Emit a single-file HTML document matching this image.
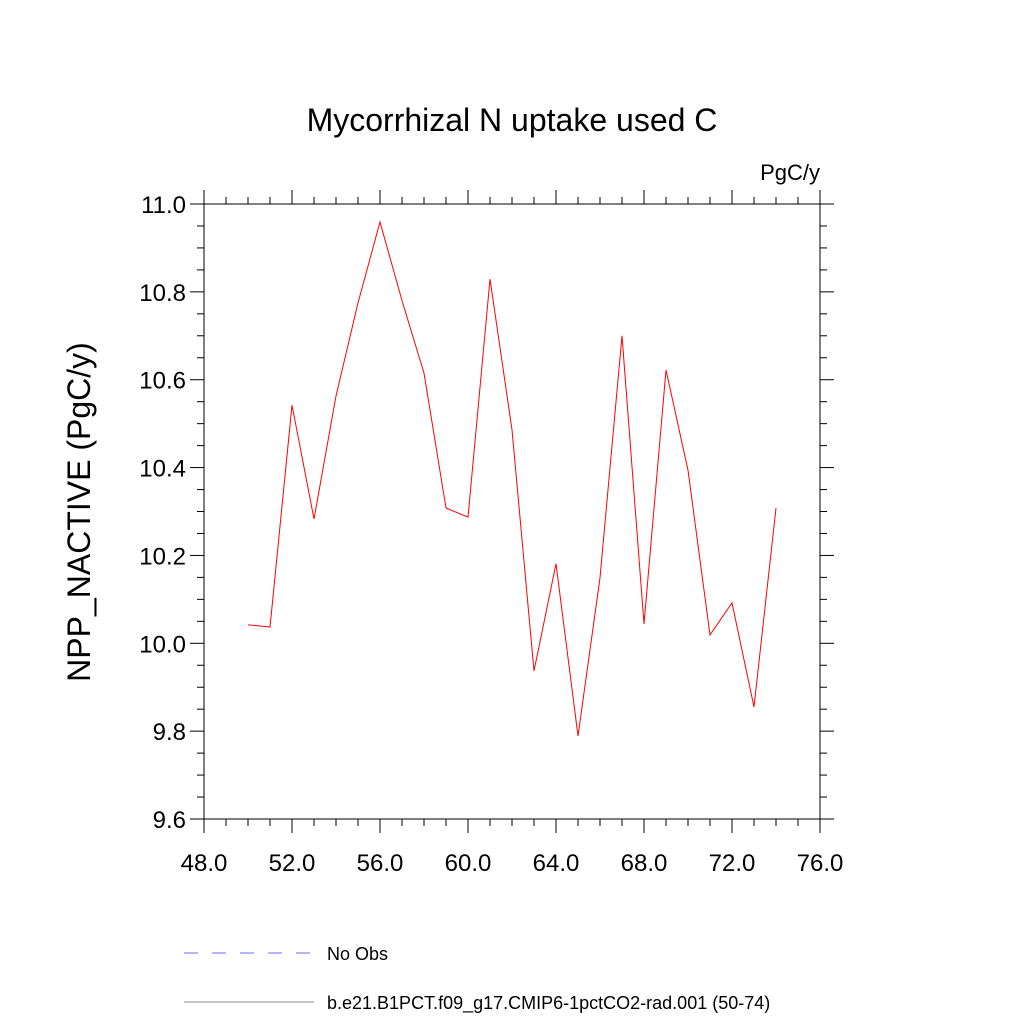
<!DOCTYPE html>
<html><head><meta charset="utf-8"><style>
body{margin:0;background:#fff}
svg text{font-family:"Liberation Sans",sans-serif}
</style></head><body>
<svg width="1024" height="1024" xmlns="http://www.w3.org/2000/svg">
<rect width="1024" height="1024" fill="#fff"/>
<text x="512" y="131" font-size="32" text-anchor="middle">Mycorrhizal N uptake used C</text>
<text x="820" y="180" font-size="22" text-anchor="end">PgC/y</text>
<text transform="translate(90,512) rotate(-90)" font-size="32" text-anchor="middle">NPP_NACTIVE  (PgC/y)</text>
<g id="axes"></g>
<path id="series" fill="none" stroke="#ff0000" stroke-width="1"/>
<line x1="184" y1="953" x2="314" y2="953" stroke="#6a6aff" stroke-width="1" stroke-dasharray="14,14"/>
<text x="327" y="960" font-size="18">No Obs</text>
<line x1="184" y1="1002" x2="314" y2="1002" stroke="#888" stroke-width="1"/>
<text x="327" y="1009" font-size="18">b.e21.B1PCT.f09_g17.CMIP6-1pctCO2-rad.001 (50-74)</text>
</svg>
<script>
const years=[50,51,52,53,54,55,56,57,58,59,60,61,62,63,64,65,66,67,68,69,70,71,72,73,74];
const values=[10.042,10.037,10.542,10.283,10.563,10.775,10.959,10.78,10.615,10.308,10.287,10.829,10.486,9.937,10.181,9.789,10.149,10.70,10.044,10.622,10.394,10.019,10.092,9.855,10.308];
const xTicks=[48,52,56,60,64,68,72,76];
const yTicks=[9.6,9.8,10.0,10.2,10.4,10.6,10.8,11.0];
const L=204,R=820,T=204,B=819,xMin=48,xMax=76,yMin=9.6,yMax=11.0;
const sx=v=>L+(v-xMin)/(xMax-xMin)*(R-L);
const sy=v=>B-(v-yMin)/(yMax-yMin)*(B-T);
const NS="http://www.w3.org/2000/svg";
const g=document.getElementById('axes');
function ln(x1,y1,x2,y2,name){const e=document.createElementNS(NS,'line');
e.setAttribute('x1',x1);e.setAttribute('y1',y1);e.setAttribute('x2',x2);e.setAttribute('y2',y2);
e.setAttribute('stroke','#000');e.setAttribute('stroke-width','1');


g.appendChild(e);}
function tx(x,y,s,anchor,name){const e=document.createElementNS(NS,'text');
e.setAttribute('x',x);e.setAttribute('y',y);e.setAttribute('font-size','24');e.setAttribute('text-anchor',anchor);e.textContent=s;


g.appendChild(e);}
const r=document.createElementNS(NS,'rect');
r.setAttribute('x',L);r.setAttribute('y',T);r.setAttribute('width',R-L);r.setAttribute('height',B-T);
r.setAttribute('fill','none');r.setAttribute('stroke','#000');


g.appendChild(r);
for(let v=xMin;v<=xMax+1e-9;v+=1){const x=sx(v);const major=(Math.round(v)-xMin)%4===0;const len=major?14:7;
ln(x,B,x,B+len,'x-tick');ln(x,T,x,T-len,'x-tick-top');}
for(let i=0;i<=28;i++){const v=yMin+i*0.05;const y=sy(v);const major=i%4===0;const len=major?14:7;
ln(L,y,L-len,y,'y-tick');ln(R,y,R+len,y,'y-tick-right');}
xTicks.forEach(v=>tx(sx(v),B+52,v.toFixed(1),'middle','x-tick-label'));
yTicks.forEach(v=>tx(L-18,sy(v)+9,v.toFixed(1),'end','y-tick-label'));
document.getElementById('series').setAttribute('d',years.map((y,i)=>(i?'L':'M')+sx(y)+','+sy(values[i])).join(' '));
</script>
</body></html>
